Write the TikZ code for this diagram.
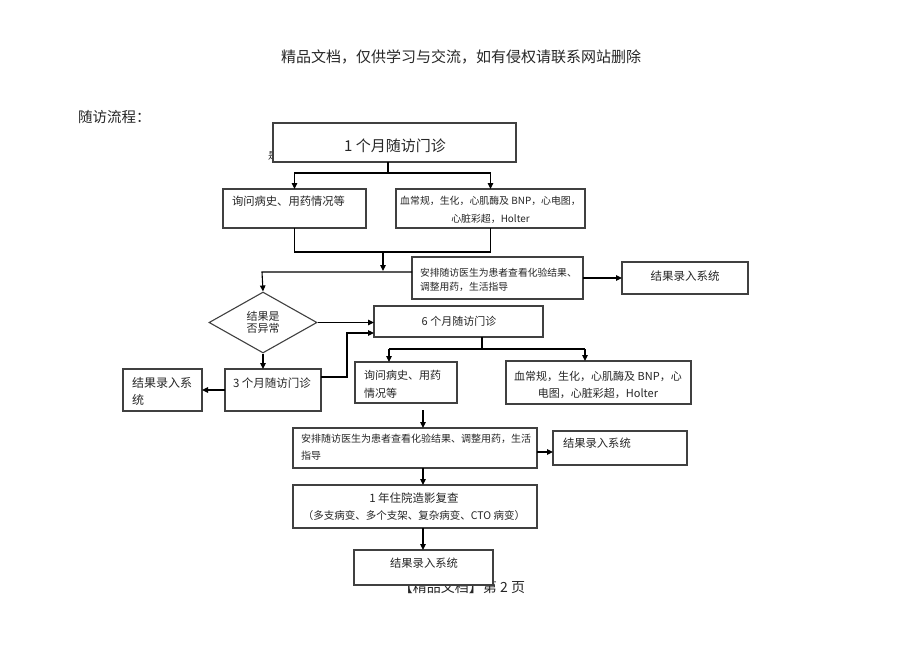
\documentclass[tikz,border=0pt]{standalone}
\usepackage{fontspec}
\setmainfont{Noto Sans CJK SC}
\usetikzlibrary{arrows.meta,shapes.geometric}
\newcommand\fs[2]{\fontsize{#1}{#2}\selectfont}
\tikzset{
  bx/.style={draw=black!75, line width=1.1pt, fill=white, inner sep=0pt, outer sep=0pt, anchor=north west},
  tx/.style={inner sep=0pt, outer sep=0pt, text=black!85},
  conn/.style={line width=1.1pt, draw=black},
  arr/.style={conn, -{Triangle[length=6pt,width=5.5pt]}},
}
\begin{document}
\begin{tikzpicture}[x=1pt,y=-1pt]
\useasboundingbox (0,0) rectangle (920,651);
% page texts
\node[tx, font=\fs{15}{18}] (title) at (461,57) {精品文档，仅供学习与交流，如有侵权请联系网站删除};
\node[tx, anchor=west, font=\fs{14.5}{17}] (head) at (78,117) {随访流程：};
\node[tx, font=\fs{10}{12}] (shi) at (273,156) {是};
\node[tx, font=\fs{14}{16}] (foot) at (462,587) {【精品文档】第 2 页};

% 1-month visit
\node[bx, minimum width=243, minimum height=39] (m1) at (273,123) {};
\node[tx, font=\fs{15}{18}] (m1t) at (395,146) {1 个月随访门诊};

\node[bx, minimum width=143, minimum height=39] (b2) at (223,189) {};
\node[tx, anchor=west, font=\fs{11.3}{14}] (b2t) at (232,201) {询问病史、用药情况等};
\node[bx, minimum width=189, minimum height=39] (b3) at (396,189) {};
\node[tx, align=center, font=\fs{9.9}{18}] (b3t) at (490.5,210) {血常规，生化，心肌酶及 BNP，心电图，\\心脏彩超，Holter};

\coordinate (j1) at (388,173);
\draw[conn] (m1.south -| j1) -- (j1);
\draw[arr] (j1) -| (b2.north);
\draw[arr] (j1) -| (b3.north);

\coordinate (j2) at (383,252);
\coordinate (j3) at (383,271);
\draw[conn] (b2.south) -- (b2.south |- j2) -- (b3.south |- j2) -- (b3.south);
\draw[arr] (j2) -- (j3);

\node[bx, minimum width=171, minimum height=42] (b4) at (412,257) {};
\node[tx, anchor=west, align=left, font=\fs{9.8}{14}] (b4t) at (420,280) {安排随访医生为患者查看化验结果、\\调整用药，生活指导};
\node[bx, minimum width=126, minimum height=32] (b5) at (622,262) {};
\node[tx, font=\fs{11.5}{14}] (b5t) at (685,276) {结果录入系统};
\draw[arr] (b4.east) -- (b5.west);

% decision
\node[diamond, draw=black!75, line width=1.1pt, fill=white, inner sep=0pt, minimum width=108, minimum height=61, align=center, text=black!85, font=\fs{11}{12}] (dia) at (263,322.5) {结果是\\否异常};
\coordinate (j4) at (262,272);
\draw[arr] (b4.west |- j4) -- (j4) -- (dia.north);

% 6-month visit
\node[bx, minimum width=169, minimum height=31] (b6) at (374,306) {};
\node[tx, font=\fs{11}{14}] (b6t) at (459,321) {6 个月随访门诊};
\draw[arr] (dia.east) -- (b6.west |- dia.east);

% 3-month visit
\node[bx, minimum width=96, minimum height=42] (b7) at (225,369) {};
\node[tx, anchor=west, font=\fs{11.5}{14}] (b7t) at (233,383) {3 个月随访门诊};
\node[bx, minimum width=79, minimum height=42] (b8) at (123,369) {};
\node[tx, anchor=west, align=left, font=\fs{12}{17}] (b8t) at (132,391.5) {结果录入系\\统};
\draw[arr] (dia.south) -- (b7.north -| dia.south);
\draw[arr] (b7.west) -- (b8.east);
\coordinate (j5) at (347,377);
\draw[arr] (b7.east |- j5) -- (j5) |- ([yshift=-11.5pt]b6.west);

% 6-month checks
\node[bx, minimum width=102, minimum height=41] (b9) at (355,362) {};
\node[tx, anchor=west, align=left, font=\fs{11}{18}] (b9t) at (364,384) {询问病史、用药\\情况等};
\node[bx, minimum width=185, minimum height=43] (b10) at (506,361) {};
\node[tx, align=center, font=\fs{11}{17}] (b10t) at (598,384.5) {血常规，生化，心肌酶及 BNP，心\\电图，心脏彩超，Holter};
\coordinate (j7) at (482,349);
\coordinate (j8) at (389,349);
\coordinate (j9) at (585,349);
\draw[conn] (b6.south -| j7) -- (j7);
\draw[conn] (j8) -- (j9);
\draw[arr] (j8) -- (b9.north -| j8);
\draw[arr] (j9) -- (b10.north -| j9);

% guidance after 6 months
\coordinate (j10) at (423,410);
\node[bx, minimum width=244, minimum height=40] (b11) at (293,428) {};
\node[tx, anchor=west, align=left, font=\fs{10}{17}] (b11t) at (301,447.5) {安排随访医生为患者查看化验结果、调整用药，生活\\指导};
\node[bx, minimum width=134, minimum height=34] (b12) at (553,431) {};
\node[tx, anchor=west, font=\fs{11.3}{14}] (b12t) at (563,443) {结果录入系统};
\draw[arr] (j10) -- (b11.north -| j10);
\draw[arr] ([yshift=-4pt]b11.east) -- ([yshift=-4pt]b11.east -| b12.west);

% 1-year review
\node[bx, minimum width=244, minimum height=43] (b13) at (293,485) {};
\node[tx, align=center, font=\fs{11}{17}] (b13t) at (414,506.5) {\fs{11.5}{17}1 年住院造影复查\\\fs{10.5}{17}（多支病变、多个支架、复杂病变、CTO 病变）};
\draw[arr] (b11.south -| j10) -- (b13.north -| j10);
\node[bx, minimum width=139, minimum height=35] (b14) at (354,550) {};
\node[tx, font=\fs{11.3}{14}] (b14t) at (424,563) {结果录入系统};
\draw[arr] (b13.south -| j10) -- (b14.north -| j10);
\end{tikzpicture}
\end{document}
